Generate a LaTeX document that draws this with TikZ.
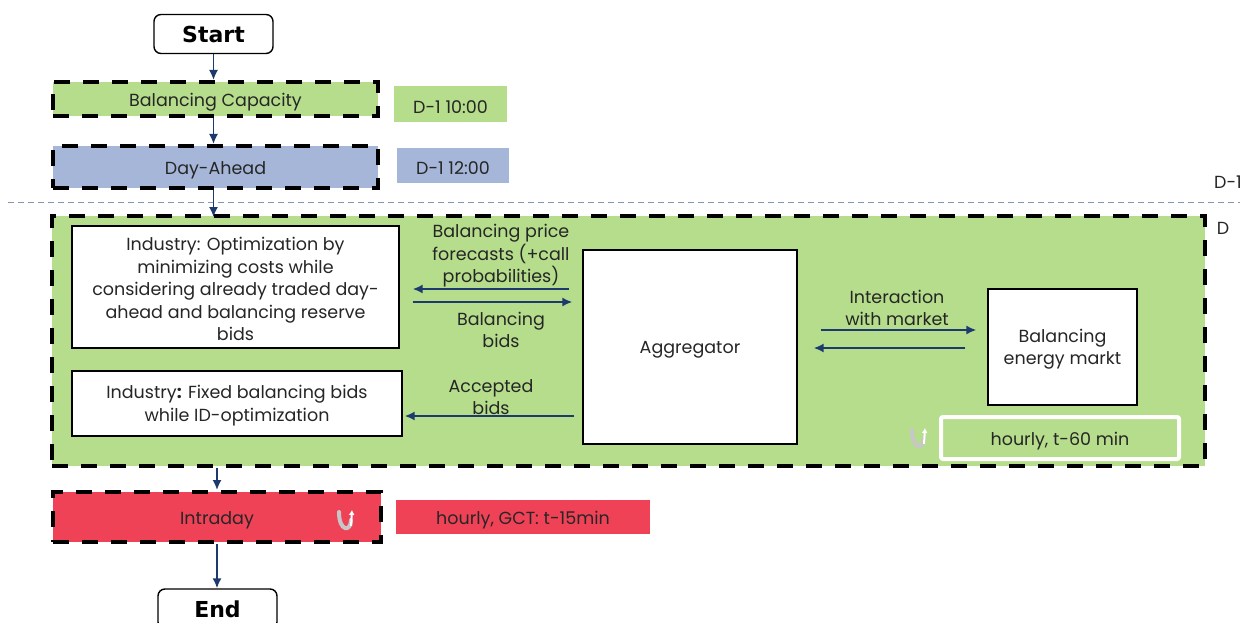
\documentclass[tikz,border=0pt]{standalone}
\usepackage{fontspec}
\setmainfont{Poppins}
\newfontfamily\headfont{DejaVu Sans}
\usetikzlibrary{arrows.meta}
\definecolor{capgreen}{HTML}{B5DD8B}
\definecolor{dablue}{HTML}{A6B6D9}
\definecolor{idred}{HTML}{EF4256}
\definecolor{flownavy}{HTML}{1C3A6E}
\definecolor{txtgrey}{HTML}{262626}
\definecolor{daysep}{HTML}{8496B4}
% shift box text down a little without changing the node size
\newcommand{\dropin}[2][3pt]{\raisebox{-#1}[\height][\depth]{#2}}
\tikzset{
  phase/.style={draw=black, line width=4pt, dash pattern=on 16pt off 13pt, inner sep=0pt, text=txtgrey},
  plainbox/.style={draw=black, line width=1.4pt, fill=white, inner sep=0pt, align=center, text=txtgrey},
  tag/.style={inner sep=0pt, text=txtgrey},
  note/.style={align=center, text=txtgrey, inner sep=0pt},
  termbox/.style={draw=black, line width=1.4pt, rounded corners=7pt, fill=white, inner sep=0pt, font=\headfont\bfseries\fontsize{22}{24}\selectfont},
  flow/.style={draw=flownavy, line width=1.7pt, -{Latex[length=10pt,width=9pt]}},
  loopicon/.style={draw=black!22, line width=4pt, line cap=round}
}
\begin{document}
\begin{tikzpicture}[x=1pt,y=-1pt, font=\fontsize{17.5}{22.5}\selectfont]
\useasboundingbox (0,0) rectangle (1252,623);

% start / end terminals
\node[termbox, minimum width=119pt, minimum height=39pt] (start) at (213.5,34) {Start};
\node[termbox, minimum width=119pt, minimum height=40pt] (end) at (217.5,609) {End};

% day-ahead phases
\node[phase, fill=capgreen, minimum width=325pt, minimum height=34pt] (cap) at (215.5,99) {\dropin{Balancing Capacity}};
\node[tag, fill=capgreen, minimum width=113pt, minimum height=36pt] (captime) at (450.5,104) {\dropin{D-1 10:00}};
\node[phase, fill=dablue, minimum width=325pt, minimum height=42pt] (da) at (215.5,167) {\dropin{Day-Ahead}};
\node[tag, fill=dablue, minimum width=112pt, minimum height=35pt] (datime) at (453,165.5) {\dropin{D-1 12:00}};

% day separator
\coordinate (sepL) at (8,202);
\coordinate (sepR) at (1240,202);
\draw[daysep, line width=1pt, dash pattern=on 6pt off 4pt] (sepL) -- (sepR);
\node[tag] (dm1) at (1228,182) {D-1};
\node[tag] (dd) at (1223,228) {D};

% balancing day block
\node[phase, fill=capgreen, minimum width=1153pt, minimum height=250pt] (bal) at (628.5,341) {};

\node[plainbox, minimum width=327pt, minimum height=122pt] (ind1) at (235.5,287)
  {\dropin[2pt]{\parbox{320pt}{\centering Industry: Optimization by\\minimizing costs while\\considering already traded day-\\ahead and balancing reserve\\bids}}};
\node[plainbox, minimum width=330pt, minimum height=65pt] (ind2) at (237,403.5)
  {\dropin[2pt]{\parbox{320pt}{\centering Industry\textbf{:} Fixed balancing bids\\while ID-optimization}}};
\node[plainbox, minimum width=214pt, minimum height=194pt] (agg) at (690,347) {\dropin{Aggregator}};
\node[plainbox, minimum width=149pt, minimum height=116pt] (bem) at (1062.5,347) {\dropin[2pt]{\parbox{140pt}{\centering Balancing\\energy markt}}};

\node[note] (lfc) at (501,256) {Balancing price\\forecasts (+call\\probabilities)};
\node[note] (lbb) at (501,330) {Balancing\\bids};
\node[note] (lab) at (491,397) {Accepted\\bids};
\node[note] (lim) at (897,308) {Interaction\\with market};

\draw[flow] ([xshift=-13pt]agg.west |- 0,289) -- ([xshift=13pt]ind1.east |- 0,289);
\draw[flow] ([xshift=13pt]ind1.east |- 0,302) -- ([xshift=-10pt]agg.west |- 0,302);
\draw[flow] ([xshift=-8pt]agg.west |- 0,416) -- ([xshift=2pt]ind2.east |- 0,416);
\draw[flow] ([xshift=23pt]agg.east |- 0,330) -- ([xshift=-11pt]bem.west |- 0,330);
\draw[flow] ([xshift=-22pt]bem.west |- 0,348) -- ([xshift=16pt]agg.east |- 0,348);

% hourly repetition tag
\node[tag, fill=capgreen, draw=white, line width=4pt, rounded corners=2pt, minimum width=238pt, minimum height=42pt] (hr60) at (1060,438) {\dropin{hourly, t-60 min}};
\draw[loopicon] (912,430) .. controls (912,450) and (924,450) .. (924,438);
\draw[white, line width=2pt, -{Latex[length=5pt,width=6pt]}] (924,444) -- (925,428);

% intraday
\node[phase, fill=idred, minimum width=328pt, minimum height=50pt] (intra) at (217,517) {\dropin{Intraday}};
\node[tag, fill=idred, minimum width=254pt, minimum height=34pt] (intratime) at (523,517) {\dropin{hourly, GCT: t-15min}};
\draw[loopicon] (339,512) .. controls (339,532) and (351,532) .. (351,520);
\draw[white, line width=2pt, -{Latex[length=5pt,width=6pt]}] (351,526) -- (352,510);

% flow of the phases
\draw[flow] (start.south) -- (cap.north -| start.south);
\draw[flow] (cap.south -| start.south) -- (da.north -| start.south);
\draw[flow] (da.south -| start.south) -- ([yshift=-3pt]bal.north -| start.south);
\draw[flow] (bal.south -| intra.north) -- (intra.north);
\draw[flow] (intra.south) -- (end.north -| intra.south);
\end{tikzpicture}
\end{document}
